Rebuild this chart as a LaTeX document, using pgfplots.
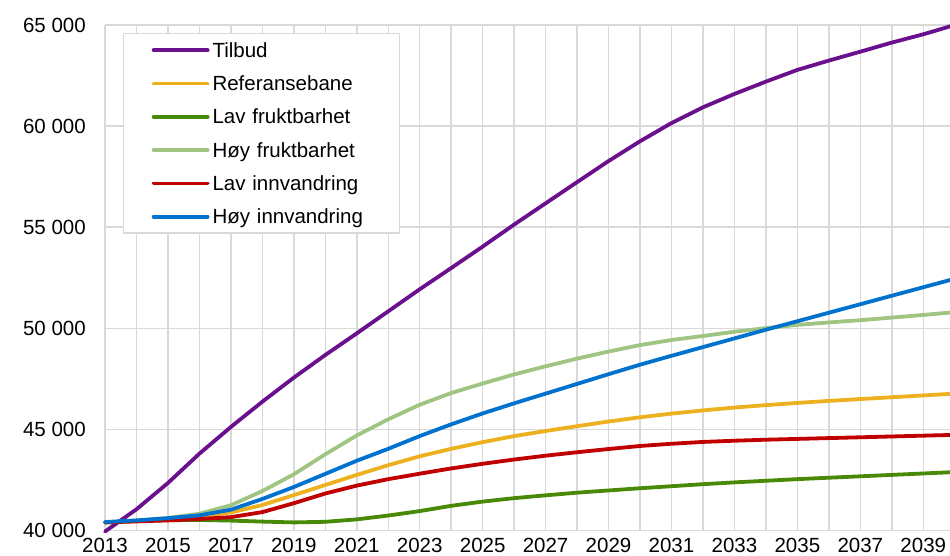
\documentclass[border=0pt]{standalone}
\usepackage{fontspec}
\setmainfont{Liberation Sans}
\usepackage{pgfplots}
\usepackage{pgfplotstable}
\pgfplotsset{compat=1.18}

\definecolor{cTilbud}{RGB}{106,16,140}
\definecolor{cRef}{RGB}{237,177,32}
\definecolor{cLavF}{RGB}{72,137,5}
\definecolor{cHoyF}{RGB}{160,196,130}
\definecolor{cLavI}{RGB}{192,0,0}
\definecolor{cHoyI}{RGB}{0,114,206}
\definecolor{gridgray}{RGB}{217,217,217}

% year, Tilbud, Referansebane, Lav/Hoy fruktbarhet, Lav/Hoy innvandring
\pgfplotstableread{
year tilbud ref  lavf  hoyf  lavi  hoyi
2013 39950 40400 40400 40400 40400 40420
2014 41050 40470 40470 40480 40450 40500
2015 42350 40560 40510 40620 40500 40610
2016 43800 40700 40520 40830 40570 40750
2017 45120 40890 40490 41250 40660 41030
2018 46370 41260 40440 41950 40910 41560
2019 47560 41750 40400 42780 41350 42150
2020 48680 42250 40430 43770 41830 42800
2021 49750 42750 40550 44700 42220 43450
2022 50840 43230 40740 45500 42540 44040
2023 51930 43670 40960 46220 42810 44670
2024 52980 44040 41220 46800 43070 45250
2025 54040 44370 41430 47270 43300 45790
2026 55130 44670 41600 47720 43510 46290
2027 56180 44920 41740 48120 43700 46770
2028 57230 45160 41870 48500 43870 47250
2029 58270 45390 41980 48850 44030 47730
2030 59250 45600 42090 49170 44180 48200
2031 60150 45780 42190 49420 44290 48640
2032 60930 45940 42290 49620 44380 49070
2033 61590 46080 42380 49830 44440 49500
2034 62200 46200 42460 50010 44490 49930
2035 62780 46310 42540 50170 44530 50350
2036 63240 46410 42610 50290 44570 50770
2037 63680 46500 42680 50400 44610 51190
2038 64130 46590 42750 50530 44650 51610
2039 64540 46680 42820 50660 44690 52030
2040 65000 46770 42890 50800 44730 52450
}\data

\begin{document}
\begin{tikzpicture}
\begin{axis}[
    scale only axis,
    width=845bp, height=505.5bp,
    xmin=2013, xmax=2039.85,
    ymin=40000, ymax=65000,
    clip=false,
    xtick={2013,2015,...,2039},
    minor xtick={2014,2016,...,2040},
    ytick={40000,45000,...,65000},
    grid=both,
    grid style={draw=gridgray, line width=1.5bp},
    minor grid style={draw=gridgray, line width=1.5bp},
    axis line style={draw=none},
    major tick length=0pt, minor tick length=0pt,
    scaled y ticks=false,
    /pgf/number format/assume math mode=true,
    ticklabel style={font=\fontsize{20.5bp}{24bp}\selectfont, text=black, inner sep=0pt},
    xticklabel style={/pgf/number format/1000 sep={}, yshift=-7.5bp},
    yticklabel style={/pgf/number format/1000 sep={\ }, xshift=-19bp},
    every axis plot/.append style={line width=3.8bp, line join=round, line cap=round, no markers},
    legend cell align=left,
    legend image code/.code={\draw[#1] (0bp,0bp) -- (54bp,0bp);},
    legend style={
        at={(0.0213,0.9842)}, anchor=north west,
        draw=gridgray, line width=1.5bp, fill=white,
        font=\fontsize{20.5bp}{24bp}\selectfont,
        inner xsep=28bp, inner ysep=7.5bp,
        row sep=15.3bp, column sep=3bp,
        nodes={inner sep=0pt, text height=16bp, text depth=2bp},
        /tikz/column 2/.append style={nodes={text width=159bp}},
    },
]
\addplot[cTilbud] table[x=year, y=tilbud] {\data};
\addlegendentry{Tilbud}
\addplot[cRef] table[x=year, y=ref] {\data};
\addlegendentry{Referansebane}
\addplot[cLavF] table[x=year, y=lavf] {\data};
\addlegendentry{Lav fruktbarhet}
\addplot[cHoyF] table[x=year, y=hoyf] {\data};
\addlegendentry{Høy fruktbarhet}
\addplot[cLavI] table[x=year, y=lavi] {\data};
\addlegendentry{Lav innvandring}
\addplot[cHoyI] table[x=year, y=hoyi] {\data};
\addlegendentry{Høy innvandring}
\end{axis}
\pgfresetboundingbox
\path (-105bp,-25.5bp) rectangle (845bp,530.5bp);
\end{tikzpicture}
\end{document}
